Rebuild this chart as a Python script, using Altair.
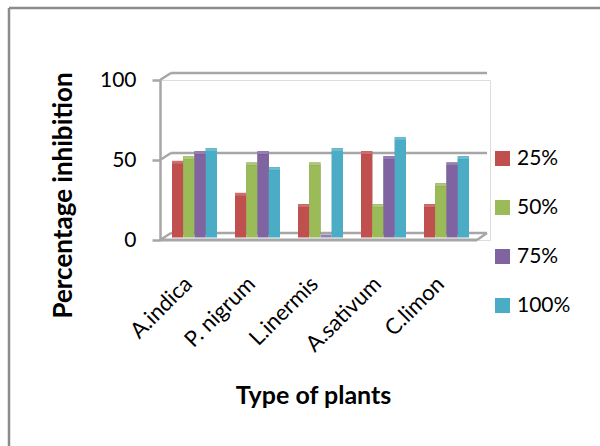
import altair as alt
import pandas as pd

# Percentage inhibition of each plant extract at four concentrations
plants = ["A.indica", "P. nigrum", "L.inermis", "A.sativum", "C.limon"]
concentrations = ["25%", "50%", "75%", "100%"]
inhibition_25 = [46, 26, 19, 52, 19]
inhibition_50 = [49, 45, 45, 19, 32]
inhibition_75 = [52, 52, 0, 49, 45]
inhibition_100 = [54, 42, 54, 61, 49]

front_colors = ["#C0504D", "#9BBB59", "#8064A2", "#4BACC6"]
side_colors = ["#8E3A38", "#72893F", "#5C4877", "#31849B"]
top_colors = ["#CD6F6C", "#ADC87A", "#9580B4", "#6CBDD2"]

series = [inhibition_25, inhibition_50, inhibition_75, inhibition_100]
rows = []
for conc, vals in zip(concentrations, series):
    for plant, v in zip(plants, vals):
        rows.append({"plant": plant, "conc": conc, "value": v})
df = pd.DataFrame(rows)

grid_df = pd.DataFrame({"level": [0, 50, 100]})
floor_df = pd.DataFrame({"level": [0]})

FONT = "Lato"
GRAY = "#A6A6A6"
PLOT_W, PLOT_H = 330, 160
DEPTH_X, DEPTH_Y = 11, 7     # wall depth in pixels
BAR_DX, BAR_DY = 4, 3        # bar depth in pixels
LIFT = 2.5                   # bars stand slightly behind the front edge

x_scale = alt.Scale(domain=plants, range=[3, 318], paddingInner=0.2857, paddingOuter=0.1429)
y_scale = alt.Scale(domain=[0, 100])
off_scale = alt.Scale(domain=concentrations, paddingInner=0, paddingOuter=0)

x_axis = alt.Axis(
    title="Type of plants", labelAngle=315, labelAlign="right", labelBaseline="middle",
    labelPadding=40, labelOffset=-6, ticks=False, domain=False, labelFontSize=22,
    labelFont=FONT, labelColor="#000000", titleFont=FONT, titleFontSize=25,
    titleFontWeight="bold", titleColor="#000000", titleX=153, titleY=163,
    titleAlign="center", titleBaseline="alphabetic",
)
x_enc = alt.X("plant:N", scale=x_scale, sort=plants, axis=x_axis)
off_enc = alt.XOffset("conc:N", scale=off_scale, sort=concentrations)

y_axis = alt.Axis(
    title="Percentage inhibition", values=[0, 50, 100], grid=False,
    domainColor=GRAY, domainWidth=2.5, tickColor=GRAY, tickWidth=2.5,
    tickSize=8, labelPadding=16, labelFontSize=21, labelFont=FONT,
    labelColor="#000000", titleFont=FONT, titleFontSize=26,
    titleFontWeight="bold", titleColor="#000000", titleX=-89, titleY=115,
    titleAlign="center", titleBaseline="alphabetic", titleAngle=270,
)

# back wall gridlines and their diagonals to the front axis
back_lines = alt.Chart(grid_df).mark_rule(color=GRAY, strokeWidth=2.5, yOffset=-DEPTH_Y).encode(
    x=alt.value(DEPTH_X), x2=alt.value(PLOT_W - 3),
    y=alt.Y("level:Q", scale=y_scale, axis=y_axis),
)
side_lines = alt.Chart(grid_df).mark_rule(color=GRAY, strokeWidth=2.5, y2Offset=-DEPTH_Y).encode(
    x=alt.value(0), x2=alt.value(DEPTH_X),
    y=alt.Y("level:Q", scale=y_scale, axis=y_axis), y2="level:Q",
)
floor_front = alt.Chart(floor_df).mark_rule(color=GRAY, strokeWidth=3).encode(
    x=alt.value(0), x2=alt.value(PLOT_W - 13), y=alt.Y("level:Q", scale=y_scale, axis=y_axis),
)
floor_right = alt.Chart(floor_df).mark_rule(color=GRAY, strokeWidth=2.5, y2Offset=-DEPTH_Y).encode(
    x=alt.value(PLOT_W - 13), x2=alt.value(PLOT_W - 3),
    y=alt.Y("level:Q", scale=y_scale, axis=y_axis), y2="level:Q",
)

color_side = alt.Color("conc:N", scale=alt.Scale(domain=concentrations, range=side_colors), legend=None)
color_top = alt.Color("conc:N", scale=alt.Scale(domain=concentrations, range=top_colors), legend=None)
color_front = alt.Color(
    "conc:N", scale=alt.Scale(domain=concentrations, range=front_colors), sort=concentrations,
    legend=alt.Legend(title=None, orient="none", legendX=332, legendY=68, symbolType="square",
                      symbolSize=225, symbolStrokeWidth=0, labelFont=FONT, labelFontSize=21,
                      labelColor="#000000", rowPadding=27, labelOffset=4),
)

y_val = alt.Y("value:Q", scale=y_scale, axis=y_axis)

bars_side = alt.Chart(df).mark_bar(
    xOffset=BAR_DX, yOffset=-LIFT - BAR_DY, y2Offset=-LIFT - BAR_DY
).encode(x=x_enc, xOffset=off_enc, y=y_val, y2=alt.datum(0), color=color_side)

bars_top = alt.Chart(df).mark_bar(
    xOffset=BAR_DX / 2, yOffset=-LIFT - BAR_DY, y2Offset=-LIFT
).encode(x=x_enc, xOffset=off_enc, y=y_val, y2="value:Q", color=color_top)

bars_front = alt.Chart(df).mark_bar(yOffset=-LIFT, y2Offset=-LIFT).encode(
    x=x_enc, xOffset=off_enc, y=y_val, y2=alt.datum(0), color=color_front,
)

# outer frame (top and left edges)
frame_top = alt.Chart(floor_df).mark_rule(color="#8C8C8C", strokeWidth=2.5).encode(
    x=alt.value(-151), x2=alt.value(460), y=alt.value(-72),
)
frame_left = alt.Chart(floor_df).mark_rule(color="#8C8C8C", strokeWidth=2.5).encode(
    x=alt.value(-151), y=alt.value(-72), y2=alt.value(380),
)

chart = alt.layer(
    frame_top, frame_left, back_lines, side_lines, floor_front, floor_right,
    bars_side, bars_top, bars_front,
).resolve_scale(color="independent").properties(
    width=PLOT_W, height=PLOT_H,
    autosize=alt.AutoSizeParams(type="none"),
    padding={"left": 160, "top": 80, "right": 110, "bottom": 206},
).configure_view(stroke=None).configure(background="#FFFFFF")

chart.save("out.html", embed_options={"renderer": "svg", "actions": False})
